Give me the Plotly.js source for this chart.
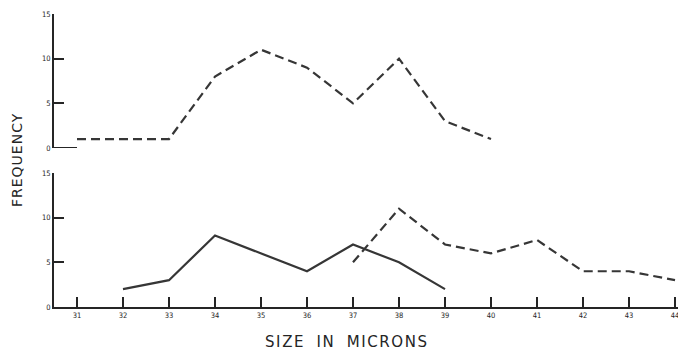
<!DOCTYPE html>
<html>
<head>
<meta charset="utf-8">
<script src="https://cdn.plot.ly/plotly-3.0.1.min.js"></script>
<style>
  html, body { margin: 0; padding: 0; background: #fff; }
  #chart { width: 678px; height: 355px; }
</style>
</head>
<body>
<div id="chart"></div>
<script>
// Size classes (microns)
const sizes = [31, 32, 33, 34, 35, 36, 37, 38, 39, 40, 41, 42, 43, 44];

// Upper panel: dashed frequency curve
const upperSizes = [31, 32, 33, 34, 35, 36, 37, 38, 39, 40];
const upperFreq  = [1, 1, 1, 8, 11, 9, 5, 10, 3, 1];

// Lower panel: solid curve
const lowerSolidSizes = [32, 33, 34, 35, 36, 37, 38, 39];
const lowerSolidFreq  = [2, 3, 8, 6, 4, 7, 5, 2];

// Lower panel: dashed curve
const lowerDashSizes = [37, 38, 39, 40, 41, 42, 43, 44];
const lowerDashFreq  = [5, 11, 7, 6, 7.5, 4, 4, 3];

const freqTicks = [0, 5, 10, 15];

const ink = '#252525';
const lineInk = '#363636';
const dashPattern = '9px,5px';
const tickFont = { family: 'DejaVu Sans Condensed, DejaVu Sans, sans-serif', size: 7.5, color: ink };

const traces = [
  {
    x: upperSizes, y: upperFreq, xaxis: 'x', yaxis: 'y2',
    mode: 'lines', line: { color: lineInk, width: 2.2, dash: dashPattern },
    hoverinfo: 'skip'
  },
  {
    x: lowerSolidSizes, y: lowerSolidFreq, xaxis: 'x', yaxis: 'y',
    mode: 'lines', line: { color: lineInk, width: 2.2 },
    hoverinfo: 'skip'
  },
  {
    x: lowerDashSizes, y: lowerDashFreq, xaxis: 'x', yaxis: 'y',
    mode: 'lines', line: { color: lineInk, width: 2.2, dash: dashPattern },
    hoverinfo: 'skip'
  }
];

const yCommon = {
  range: [0, 15],
  tickvals: freqTicks,
  ticktext: freqTicks.map(String),
  ticks: 'inside',
  ticklen: 10,
  tickwidth: 2,
  tickcolor: ink,
  showline: true,
  linecolor: ink,
  linewidth: 2,
  showgrid: false,
  zeroline: false,
  tickfont: tickFont,
  fixedrange: true
};

const layout = {
  width: 678,
  height: 355,
  margin: { l: 54, r: 0, t: 14, b: 48 },
  paper_bgcolor: '#ffffff',
  plot_bgcolor: '#ffffff',
  showlegend: false,
  xaxis: {
    range: [30.5, 44.065],
    tickvals: sizes,
    ticktext: sizes.map(String),
    ticks: 'inside',
    ticklen: 10,
    tickwidth: 2,
    tickcolor: ink,
    showline: true,
    linecolor: ink,
    linewidth: 2,
    showgrid: false,
    zeroline: false,
    anchor: 'y',
    ticklabeloverflow: 'allow',
    tickfont: tickFont,
    fixedrange: true
  },
  yaxis: Object.assign({}, yCommon, { domain: [0, 0.4573], anchor: 'x' }),
  yaxis2: Object.assign({}, yCommon, { domain: [0.5427, 1], anchor: 'x' }),
  shapes: [
    // short base stub under the upper panel's frequency axis
    {
      type: 'line', xref: 'x', yref: 'y2',
      x0: 30.5, x1: 31, y0: 0, y1: 0,
      line: { color: ink, width: 2 }
    }
  ],
  annotations: [
    {
      text: '<span style="letter-spacing:1.6px;word-spacing:5px">SIZE IN MICRONS</span>',
      xref: 'paper', yref: 'paper',
      x: 0.469, y: -0.12, xanchor: 'center', yanchor: 'middle',
      showarrow: false,
      font: { family: 'DejaVu Sans, sans-serif', size: 15, color: ink }
    },
    {
      text: '<span style="letter-spacing:1px">FREQUENCY</span>',
      xref: 'paper', yref: 'paper',
      x: -0.06, y: 0.5, xanchor: 'center', yanchor: 'middle',
      textangle: -90,
      showarrow: false,
      font: { family: 'DejaVu Sans, sans-serif', size: 14, color: ink }
    }
  ]
};

Plotly.newPlot('chart', traces, layout, { staticPlot: true, displayModeBar: false });
</script>
</body>
</html>
